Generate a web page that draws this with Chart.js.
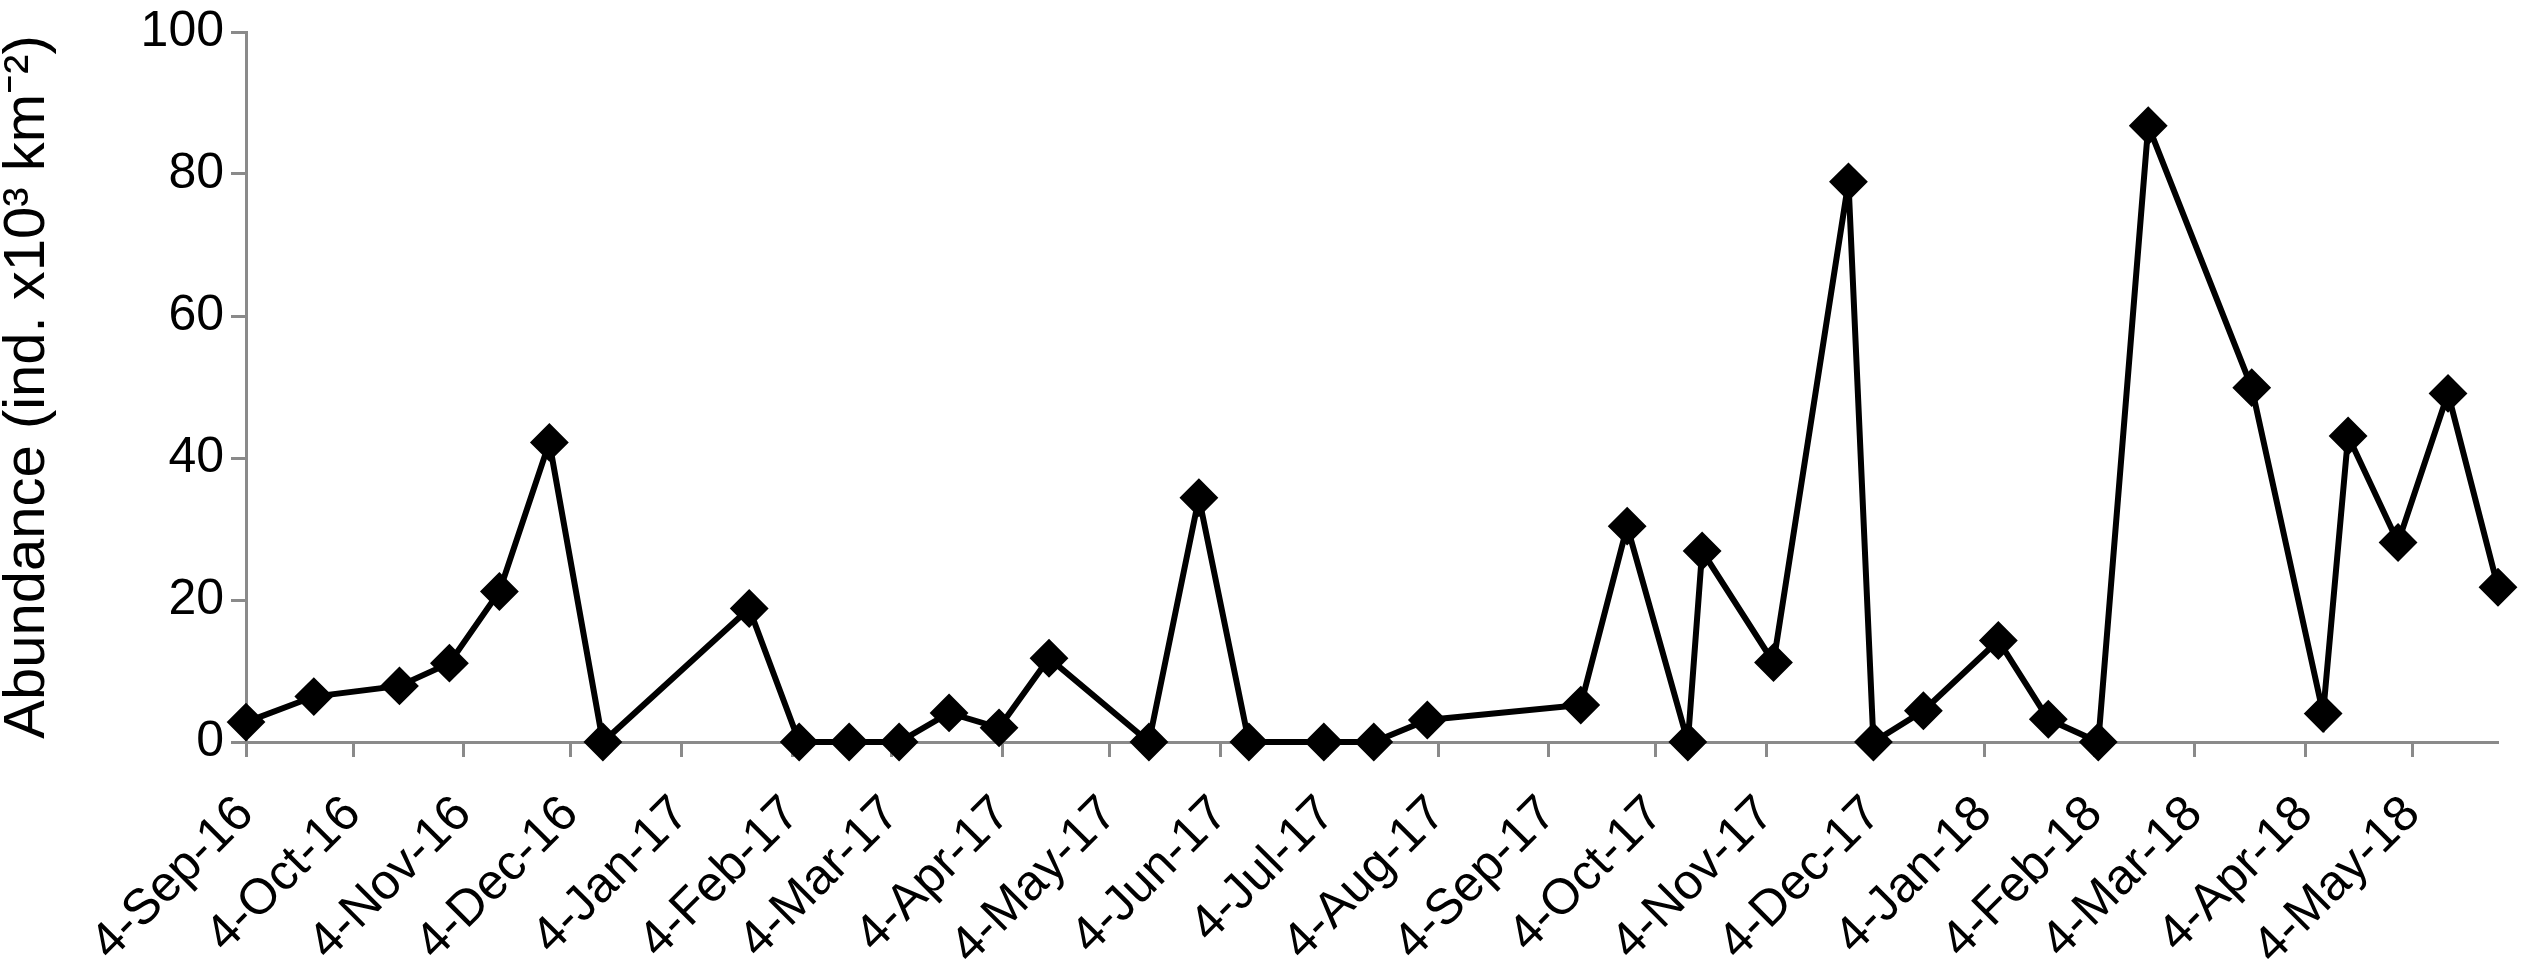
<!DOCTYPE html>
<html>
<head>
<meta charset="utf-8">
<script src="https://cdn.jsdelivr.net/npm/chart.js@4.4.1/dist/chart.umd.min.js"></script>
<style>
  html, body { margin: 0; padding: 0; background: #fff; }
</style>
</head>
<body>
<canvas id="myChart" width="2523" height="978"></canvas>
<script>
// sampling dates (yyyy-mm-dd) and abundance, ind. x10^3 km^-2
const sampleDates = [
  '2016-09-04', '2016-09-23', '2016-10-17', '2016-10-31', '2016-11-14', '2016-11-28',
  '2016-12-13', '2017-01-23', '2017-02-06', '2017-02-20', '2017-03-06', '2017-03-20',
  '2017-04-03', '2017-04-17', '2017-05-15', '2017-05-29', '2017-06-12', '2017-07-03',
  '2017-07-17', '2017-08-01', '2017-09-13', '2017-09-26', '2017-10-13', '2017-10-17',
  '2017-11-06', '2017-11-27', '2017-12-04', '2017-12-18', '2018-01-08', '2018-01-22',
  '2018-02-05', '2018-02-19', '2018-03-20', '2018-04-09', '2018-04-16', '2018-04-30',
  '2018-05-14', '2018-05-28'
];
const abundance = [
  2.8, 6.4, 7.9, 11.1, 21.2, 42.2,
  0, 18.8, 0, 0, 0, 4.1,
  2.0, 11.8, 0, 34.4, 0, 0,
  0, 3.1, 5.2, 30.4, 0, 26.9,
  11.2, 78.9, 0, 4.4, 14.3, 3.2,
  0, 86.8, 49.9, 4.0, 43.1, 28.1,
  49.1, 21.8
];
const tickDates = [
  '2016-09-04', '2016-10-04', '2016-11-04', '2016-12-04', '2017-01-04', '2017-02-04',
  '2017-03-04', '2017-04-04', '2017-05-04', '2017-06-04', '2017-07-04', '2017-08-04',
  '2017-09-04', '2017-10-04', '2017-11-04', '2017-12-04', '2018-01-04', '2018-02-04',
  '2018-03-04', '2018-04-04', '2018-05-04'
];
const tickLabels = [
  '4-Sep-16', '4-Oct-16', '4-Nov-16', '4-Dec-16', '4-Jan-17', '4-Feb-17',
  '4-Mar-17', '4-Apr-17', '4-May-17', '4-Jun-17', '4-Jul-17', '4-Aug-17',
  '4-Sep-17', '4-Oct-17', '4-Nov-17', '4-Dec-17', '4-Jan-18', '4-Feb-18',
  '4-Mar-18', '4-Apr-18', '4-May-18'
];
const yTicks = [0, 20, 40, 60, 80, 100];

// days since first sample, used as the x value
const start = Date.UTC(2016, 8, 4);
function dayOf(s) {
  const p = s.split('-');
  return (Date.UTC(+p[0], +p[1] - 1, +p[2]) - start) / 86400000;
}

const fontFam = '"Liberation Sans", Arial, sans-serif';
const axisGray = '#8a8a8a';

const points = sampleDates.map((d, i) => ({ x: dayOf(d), y: abundance[i] }));

const data = {
  datasets: [{
    label: 'Abundance',
    data: points,
    borderColor: '#000',
    backgroundColor: '#000',
    borderWidth: 6,
    pointStyle: 'rectRot',
    pointRadius: 18,
    pointBorderWidth: 2,
    pointBackgroundColor: '#000',
    pointBorderColor: '#000',
    tension: 0,
    clip: false
  }]
};

const config = {
  type: 'line',
  data: data,
  options: {
    responsive: false,
    animation: false,
    layout: { padding: { top: 31, right: 25, bottom: 0, left: 0 } },
    plugins: { legend: { display: false }, tooltip: { enabled: false } },
    scales: {
      x: {
        type: 'linear',
        min: 0,
        max: dayOf(sampleDates[sampleDates.length - 1]),
        afterBuildTicks: s => { s.ticks = tickDates.map(d => ({ value: dayOf(d) })); },
        afterFit: s => { s.height = 236; },
        grid: { drawOnChartArea: false, drawTicks: true, tickLength: 15, tickColor: axisGray, tickWidth: 3 },
        border: { color: axisGray, width: 3 },
        ticks: {
          autoSkip: false, maxRotation: 45, minRotation: 45, padding: 28,
          color: '#000', font: { family: fontFam, size: 50 },
          callback: (v, i) => tickLabels[i]
        }
      },
      y: {
        min: 0,
        max: 100,
        afterBuildTicks: s => { s.ticks = yTicks.map(v => ({ value: v })); },
        afterFit: s => { s.width = 246; },
        grid: { drawOnChartArea: false, drawTicks: true, tickLength: 15, tickColor: axisGray, tickWidth: 3 },
        border: { color: axisGray, width: 3 },
        ticks: { padding: 7, color: '#000', font: { family: fontFam, size: 50, lineHeight: 1.0 } },
        title: {
          display: true,
          text: 'Abundance (ind. x10\u00B3 km\u207B\u00B2)',
          color: '#000',
          font: { family: fontFam, size: 58, lineHeight: 0.95 },
          padding: 0
        }
      }
    }
  }
};

const myChart = new Chart(document.getElementById('myChart'), config);
</script>
</body>
</html>
